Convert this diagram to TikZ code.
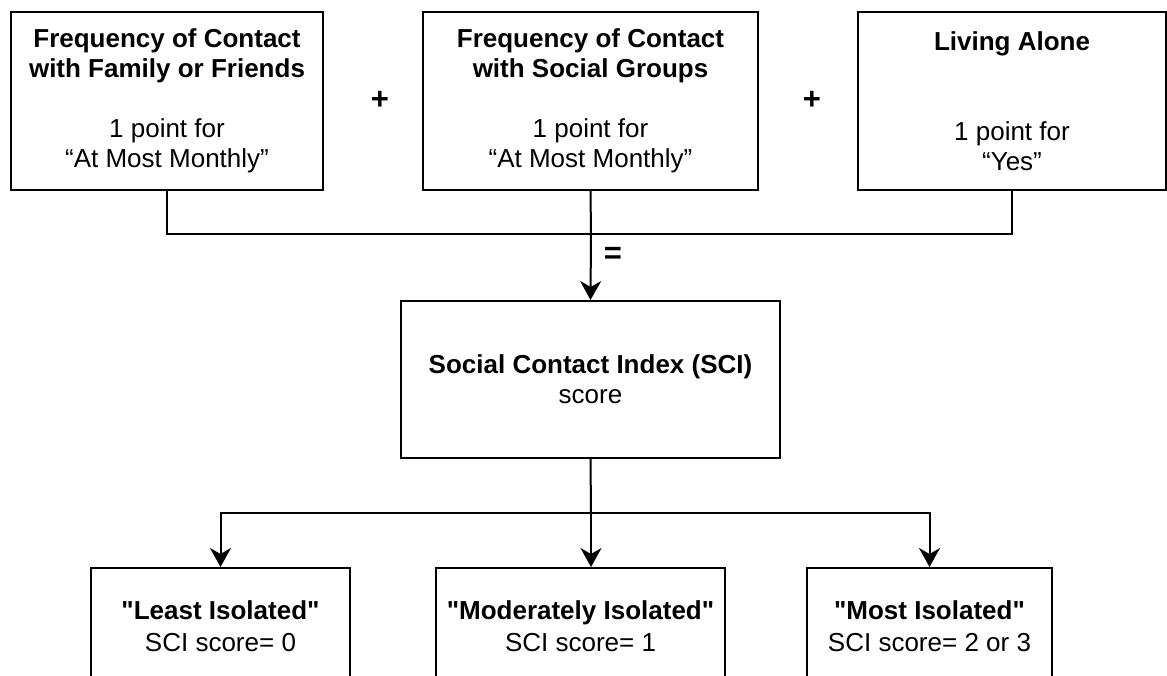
\documentclass[tikz,border=0pt]{standalone}
\usepackage{fontspec}
\setmainfont{Liberation Sans}
\usetikzlibrary{arrows.meta}
\begin{document}
\begin{tikzpicture}[x=1pt,y=1pt,
  box/.style={draw,line width=2pt,inner sep=0pt,align=center,font=\fontsize{26}{30}\selectfont},
  conn/.style={line width=2pt},
  arr/.style={conn,-{Stealth[length=19pt,width=21pt,inset=6pt]}},
  sym/.style={font=\fontsize{31}{32}\selectfont\bfseries}]
\clip (0,0) rectangle (1167,-675);
\useasboundingbox (0,0) rectangle (1167,-675);
\node[box,minimum width=312pt,minimum height=178pt] (b1) at (167,-101)
  {\textbf{Frequency of Contact}\\\textbf{with Family or Friends}\\[30pt]1 point for\\“At Most Monthly”};
\node[box,minimum width=335pt,minimum height=178pt] (b2) at (590.5,-101)
  {\textbf{Frequency of Contact}\\\textbf{with Social Groups}\\[30pt]1 point for\\“At Most Monthly”};
\node[box,minimum width=308pt,minimum height=178pt] (b3) at (1012,-101)
  {\textbf{Living Alone}\\[60pt]1 point for\\“Yes”};
\node[sym] (p1) at (380,-100) {+};
\node[sym] (p2) at (812,-100) {+};
\node[box,minimum width=379pt,minimum height=157pt] (sci) at (590.5,-379.5)
  {\textbf{Social Contact Index (SCI)}\\score};
\node[box,minimum width=259pt,minimum height=116pt] (o1) at (220.5,-626)
  {\textbf{\textquotedbl Least Isolated\textquotedbl}\\[2pt]SCI score= 0};
\node[box,minimum width=289pt,minimum height=116pt] (o2) at (580.5,-626)
  {\textbf{\textquotedbl Moderately Isolated\textquotedbl}\\[2pt]SCI score= 1};
\node[box,minimum width=245pt,minimum height=116pt] (o3) at (929.5,-626)
  {\textbf{\textquotedbl Most Isolated\textquotedbl}\\[2pt]SCI score= 2 or 3};
\coordinate (j1) at (591,-234);
\coordinate (j2) at (591,-513);
\node[sym] (eq) at (613,-255) {=};
\draw[conn] (b1.south) |- (j1) -| (b3.south);
\draw[conn] (b2.south) -- (j1);
\draw[arr] (j1) -- (sci.north);
\draw[conn] (sci.south) -- (j2);
\draw[arr] (j2) -- (j2 |- o2.north);
\draw[arr] (j2) -| (o1.north);
\draw[arr] (j2) -| (o3.north);
\end{tikzpicture}
\end{document}
